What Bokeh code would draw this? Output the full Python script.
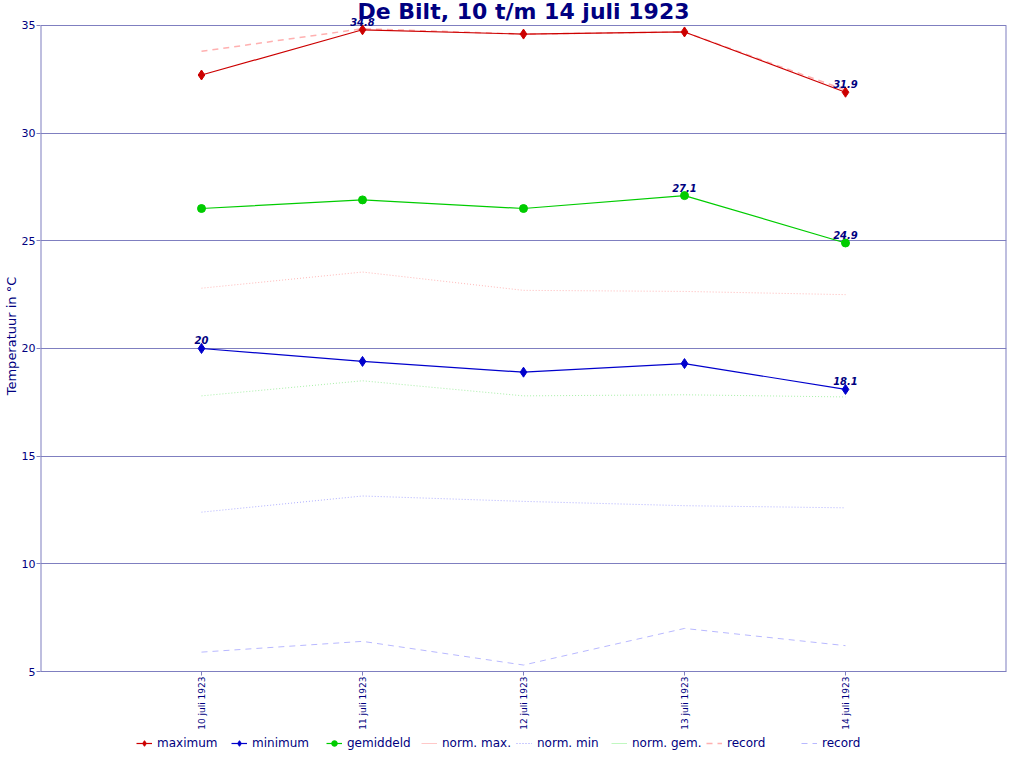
from bokeh.plotting import figure
from bokeh.layouts import column
from bokeh.models import Range1d, Label, LabelSet, ColumnDataSource, Legend, LegendItem, FixedTicker
from bokeh.core.properties import value
from bokeh.embed import file_html
from bokeh.resources import INLINE
import math

dates = ["10 juli 1923", "11 juli 1923", "12 juli 1923", "13 juli 1923", "14 juli 1923"]
maximum = [32.7, 34.8, 34.6, 34.7, 31.9]
minimum = [20.0, 19.4, 18.9, 19.3, 18.1]
gemiddeld = [26.5, 26.9, 26.5, 27.1, 24.9]
norm_max = [22.8, 23.55, 22.7, 22.65, 22.5]
norm_min = [12.4, 13.15, 12.9, 12.7, 12.6]
norm_gem = [17.8, 18.5, 17.8, 17.85, 17.75]
record_max = [33.8, 34.85, 34.6, 34.7, 32.0]
record_min = [5.9, 6.4, 5.3, 7.0, 6.2]
y_ticks = [5, 10, 15, 20, 25, 30, 35]
title_text = "De Bilt, 10 t/m 14 juli 1923"

FONT = "DejaVu Sans"
NAVY = "#000080"
GRID = "#7f7fc0"

# styles
S_RMIN = dict(line_color="#b8b8ff", line_width=1, line_dash="6 5")
S_RMAX = dict(line_color="#ffb0b0", line_width=1.5, line_dash="6 5")
S_NMAX = dict(line_color="#ffb8b8", line_width=1, line_dash="1 2")
S_NMIN = dict(line_color="#b0b0ff", line_width=1, line_dash="1 2")
S_NGEM = dict(line_color="#a8f0a8", line_width=1, line_dash="1 2")
C_MAX, C_MIN, C_GEM = "#cc0000", "#0000cc", "#00cc00"
DIA, CIR = 10, 8

x = list(range(len(dates)))
y_lo, y_hi = y_ticks[0], y_ticks[-1]
y_top = y_hi + 1.16   # headroom above the top gridline for title and labels

p = figure(width=1008, height=732, x_range=Range1d(-1, len(dates)), y_range=Range1d(y_lo, y_top),
           output_backend="svg", toolbar_location=None,
           min_border_left=0, min_border_right=2, min_border_top=0, min_border_bottom=0)
p.title.visible = False
p.background_fill_color = "white"
p.border_fill_color = "white"
p.outline_line_color = None

p.xgrid.visible = False
p.ygrid.grid_line_color = GRID
p.ygrid.grid_line_width = 1

p.xaxis.ticker = FixedTicker(ticks=x)
p.xaxis.major_label_overrides = {i: d for i, d in zip(x, dates)}
p.xaxis.major_label_orientation = math.pi / 2
p.xaxis.major_label_text_font_size = "9px"
p.xaxis.minor_tick_line_color = None
p.yaxis.ticker = FixedTicker(ticks=y_ticks)
p.yaxis.major_label_text_font_size = "11px"
p.yaxis.minor_tick_line_color = None
p.yaxis.axis_label = "Temperatuur in °C"
p.yaxis.axis_label_text_font_size = "13px"
p.yaxis.axis_label_text_font_style = "normal"
p.yaxis.axis_label_text_color = NAVY
p.yaxis.axis_label_text_font = FONT
p.yaxis.axis_label_standoff = 0
for ax in (p.xaxis, p.yaxis):
    ax.axis_line_color = GRID
    ax.major_tick_line_color = GRID
    ax.major_tick_out = 4
    ax.major_tick_in = 0
    ax.major_label_standoff = 1
    ax.major_label_text_color = NAVY
    ax.major_label_text_font = FONT
p.yaxis.axis_line_color = None

# plot-area side borders, ending at the top gridline
p.segment(x0=[-1, len(dates)], y0=[y_lo, y_lo], x1=[-1, len(dates)], y1=[y_hi, y_hi],
          line_color=GRID, line_width=2)

src = ColumnDataSource(dict(x=x, maximum=maximum, minimum=minimum, gemiddeld=gemiddeld,
                            norm_max=norm_max, norm_min=norm_min, norm_gem=norm_gem,
                            record_max=record_max, record_min=record_min))

p.line("x", "record_min", source=src, **S_RMIN)
p.line("x", "record_max", source=src, **S_RMAX)
p.line("x", "norm_max", source=src, **S_NMAX)
p.line("x", "norm_min", source=src, **S_NMIN)
p.line("x", "norm_gem", source=src, **S_NGEM)

p.line("x", "maximum", source=src, line_color=C_MAX, line_width=1.2)
p.scatter("x", "maximum", source=src, marker="diamond", size=DIA, color=C_MAX)
p.line("x", "minimum", source=src, line_color=C_MIN, line_width=1.2)
p.scatter("x", "minimum", source=src, marker="diamond", size=DIA, color=C_MIN)
p.line("x", "gemiddeld", source=src, line_color=C_GEM, line_width=1.2)
p.scatter("x", "gemiddeld", source=src, marker="circle", size=CIR, color=C_GEM)

# value labels at the highest and lowest point of each main series
lx, ly, lt = [], [], []
for series in (maximum, minimum, gemiddeld):
    for idx in (series.index(max(series)), series.index(min(series))):
        lx.append(x[idx])
        ly.append(series[idx])
        v = series[idx]
        lt.append(str(int(v)) if float(v).is_integer() else str(v))
lsrc = ColumnDataSource(dict(x=lx, y=ly, t=lt))
p.add_layout(LabelSet(x="x", y="y", text="t", source=lsrc, text_align="center",
                      text_baseline="bottom", y_offset=4, text_font=value(FONT),
                      text_font_size=value("10px"), text_font_style=value("bold italic"),
                      text_color=value(NAVY)))

p.add_layout(Label(x=(len(dates) - 1) / 2, y=y_hi, text=title_text, text_align="center",
                   text_baseline="middle", y_offset=14, text_font=FONT,
                   text_font_size="22px", text_font_style="bold", text_color=NAVY))

# legend strip below the chart (its sample renderers sit outside the strip's visible range)
lg = figure(width=1008, height=20, x_range=Range1d(0, 1), y_range=Range1d(0, 1),
            output_backend="svg", toolbar_location=None, x_axis_type=None, y_axis_type=None,
            min_border_left=0, min_border_right=0, min_border_top=0, min_border_bottom=0)
lg.outline_line_color = None
lg.xgrid.visible = False
lg.ygrid.visible = False
lg.title.visible = False
e = ColumnDataSource(dict(x=[-5], y=[-5]))
lm1 = lg.line("x", "y", source=e, line_color=C_MAX, line_width=1.2)
lm2 = lg.scatter("x", "y", source=e, marker="diamond", size=DIA, color=C_MAX)
ln1 = lg.line("x", "y", source=e, line_color=C_MIN, line_width=1.2)
ln2 = lg.scatter("x", "y", source=e, marker="diamond", size=DIA, color=C_MIN)
lgm1 = lg.line("x", "y", source=e, line_color=C_GEM, line_width=1.2)
lgm2 = lg.scatter("x", "y", source=e, marker="circle", size=CIR, color=C_GEM)
lnm = lg.line("x", "y", source=e, line_color="#ffc8c8", line_width=1)
lnn = lg.line("x", "y", source=e, line_color="#9898ff", line_width=1, line_dash="1 2")
lng = lg.line("x", "y", source=e, line_color="#c0f8c0", line_width=1)
lrm = lg.line("x", "y", source=e, **S_RMAX)
lrn = lg.line("x", "y", source=e, **S_RMIN)

legend = Legend(items=[
    LegendItem(label="maximum", renderers=[lm1, lm2]),
    LegendItem(label="minimum", renderers=[ln1, ln2]),
    LegendItem(label="gemiddeld", renderers=[lgm1, lgm2]),
    LegendItem(label="norm. max.", renderers=[lnm]),
    LegendItem(label="norm. min", renderers=[lnn]),
    LegendItem(label="norm. gem.", renderers=[lng]),
    LegendItem(label="record", renderers=[lrm]),
    LegendItem(label="record", renderers=[lrn]),
], orientation="horizontal", location=(96, 2), label_text_font=FONT,
   label_text_font_size="12px", label_text_color=NAVY, label_width=70,
   glyph_width=16, glyph_height=14, label_standoff=5, spacing=4,
   padding=1, margin=0, border_line_color=None, background_fill_alpha=0)
lg.add_layout(legend, "center")

layout = column(p, lg, spacing=0)
open("out.html", "w").write(file_html(layout, INLINE))
